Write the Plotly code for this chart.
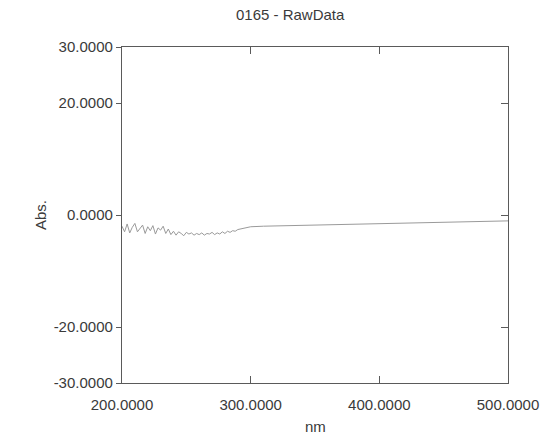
import plotly.graph_objects as go

# Wavelength (nm) and absorbance
wl_noisy = [200, 202, 204, 206, 208, 210, 212, 214, 216, 218, 220, 222, 224, 226, 228,
            230, 232, 234, 236, 238, 240, 242, 244, 246, 248, 250, 252, 254, 256, 258,
            260, 262, 264, 266, 268, 270, 272, 274, 276, 278, 280, 282, 284, 286, 288,
            290, 292, 294, 296, 298]
abs_noisy = [-2.0, -3.0, -1.6, -3.2, -2.2, -1.5, -3.0, -2.4, -1.8, -3.3, -2.1, -2.8, -1.9, -3.4, -2.3,
             -2.7, -2.0, -3.3, -2.5, -3.5, -2.9, -3.6, -3.0, -3.3, -3.7, -3.1, -3.4, -3.2, -3.6, -3.3,
             -3.5, -3.2, -3.6, -3.3, -3.4, -3.1, -3.5, -3.2, -3.4, -3.0, -3.3, -2.9, -3.1, -2.8, -2.9,
             -2.6, -2.5, -2.4, -2.3, -2.2]
wl_smooth = [300, 310, 320, 330, 340, 350, 360, 370, 380, 390, 400, 410, 420, 430, 440,
             450, 460, 470, 480, 490, 500]
abs_smooth = [-2.1, -2.0, -1.95, -1.9, -1.85, -1.8, -1.75, -1.7, -1.65, -1.6, -1.55, -1.5, -1.45, -1.4, -1.35,
              -1.3, -1.25, -1.2, -1.15, -1.1, -1.05]

x_ticks = [200, 300, 400, 500]
x_labels = ["200.0000", "300.0000", "400.0000", "500.0000"]
y_ticks = [30, 20, 0, -20, -30]
y_labels = ["30.0000", "20.0000", "0.0000", "-20.0000", "-30.0000"]

FONT = "Liberation Sans, Arial, sans-serif"
FS = 15
AX = "#5a5a5a"
TXT = "#3a3a3a"

fig = go.Figure()
fig.add_trace(go.Scatter(x=wl_noisy + wl_smooth, y=abs_noisy + abs_smooth, mode="lines",
                         line=dict(color="#9a9a9a", width=1), showlegend=False))
# invisible trace to activate right-side axis
fig.add_trace(go.Scatter(x=[200], y=[0], yaxis="y2", mode="markers",
                         marker=dict(opacity=0), showlegend=False, hoverinfo="skip"))

fig.update_layout(
    width=558, height=436,
    margin=dict(l=122, r=50, t=47, b=53),
    paper_bgcolor="white", plot_bgcolor="white",
    font=dict(family=FONT, size=FS, color=TXT),
    title=dict(text="0165 - RawData", x=0.52, xanchor="center", y=1 - 15 / 436,
               yanchor="middle", yref="container",
               font=dict(family=FONT, size=FS, color=TXT)),
    xaxis=dict(range=[200, 500], tickvals=x_ticks, ticktext=x_labels,
               showgrid=False, zeroline=False, showline=True, linecolor=AX, linewidth=1.3,
               ticks="inside", ticklen=7, tickcolor=AX, mirror="ticks",
               ticklabelstandoff=8),
    yaxis=dict(range=[-30, 30], tickvals=y_ticks, ticktext=y_labels,
               showgrid=False, zeroline=False, showline=True, linecolor=AX, linewidth=1.3,
               ticks="outside", ticklen=5, tickcolor=AX, mirror=True),
    yaxis2=dict(range=[-30, 30], overlaying="y", side="right", tickvals=y_ticks,
                showticklabels=False, showgrid=False, zeroline=False, showline=True,
                linecolor=AX, linewidth=1.3, ticks="inside", ticklen=7, tickcolor=AX),
    annotations=[
        dict(text="nm", x=0.5, y=(383 - 426) / 336, xref="paper", yref="paper",
             showarrow=False, xanchor="center", yanchor="middle",
             font=dict(family=FONT, size=FS, color=TXT)),
        dict(text="Abs.", x=(40 - 122) / 386, y=0.5, xref="paper", yref="paper",
             showarrow=False, xanchor="center", yanchor="middle", textangle=-90,
             font=dict(family=FONT, size=FS, color=TXT)),
    ],
)

fig.write_html("out.html")
